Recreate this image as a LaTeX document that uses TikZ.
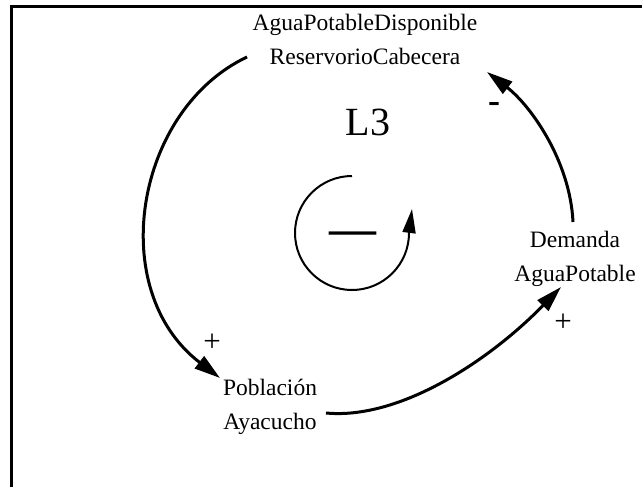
\documentclass[tikz,border=0pt]{standalone}
\usepackage{fontspec}
\setmainfont{Liberation Serif}
\usetikzlibrary{arrows.meta}
\begin{document}
\begin{tikzpicture}[x=1pt,y=1pt,
  var/.style={align=center,inner sep=0pt,font=\fontsize{23.5}{34}\selectfont},
  link/.style={line width=3pt,-{Triangle[length=26pt,width=15pt]}},
  pol/.style={inner sep=0pt,font=\fontsize{31}{31}\selectfont}]
\useasboundingbox (0,0) rectangle (642,-489);
\draw[line width=3pt] (11,-487) -- (11,-7) -- (642,-7);
\node[var] (res) at (365,-39) {AguaPotableDisponible\\ReservorioCabecera};
\node[var] (dem) at (575,-259) {Demanda\\AguaPotable};
\node[var] (pob) at (270,-407) {Población\\Ayacucho};
\node[inner sep=0pt,font=\fontsize{40}{40}\selectfont] (l3) at (368,-122) {L3};
\coordinate (a1s) at (247,-57);
\coordinate (a1e) at (220,-378);
\coordinate (a2s) at (326,-413);
\coordinate (a2e) at (561,-287);
\coordinate (a3s) at (573,-222);
\coordinate (a3e) at (487,-72);
\draw[link] (a1s) .. controls (135,-110) and (105,-290) .. (a1e);
\draw[link] (a2s) .. controls (400,-420) and (490,-360) .. (a2e);
\draw[link] (a3s) .. controls (570,-160) and (530,-105) .. (a3e);
\node[pol] (p1) at (212,-343) {+};
\node[pol] (p2) at (563,-323) {+};
\node[inner sep=0pt,font=\fontsize{36}{36}\bfseries\selectfont] (m1) at (494,-108) {-};
\coordinate (cs) at (352,-176);
\coordinate (ce) at (412,-209);
\draw[line width=2pt,-{Triangle[length=24pt,width=13pt]}] (cs) arc[start angle=90,end angle=360,radius=57] -- (ce);
\node[inner sep=0pt,font=\fontsize{47}{47}\bfseries\selectfont] (m2) at (353,-238) {—};
\end{tikzpicture}
\end{document}
